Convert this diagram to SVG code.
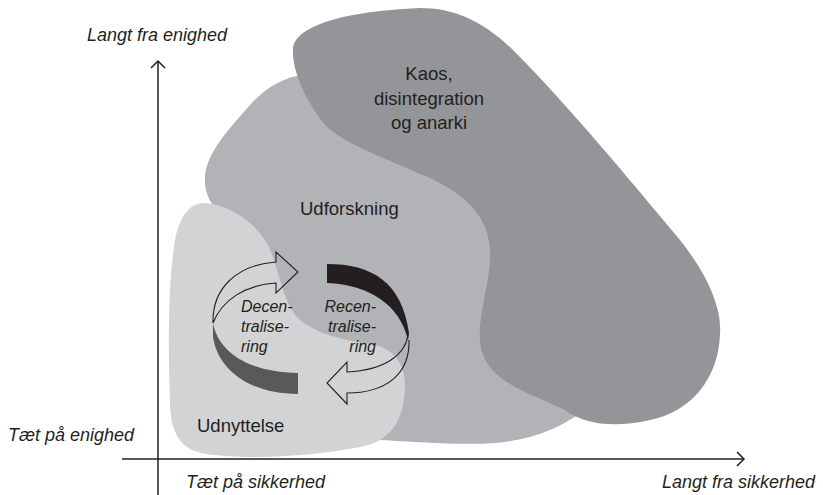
<svg xmlns="http://www.w3.org/2000/svg" width="823" height="495" viewBox="0 0 823 495">
<style>
.lbl{font-family:"Liberation Sans",Arial,sans-serif;font-size:18.5px;fill:#231f20}
.ax{font-family:"Liberation Sans",Arial,sans-serif;font-size:18px;font-style:italic;fill:#231f20}
.cy{font-family:"Liberation Sans",Arial,sans-serif;font-size:16px;font-style:italic;fill:#231f20}
.axis{fill:none;stroke:#231f20;stroke-width:1.5}
.rib{fill:none;stroke:#231f20;stroke-width:1.1;stroke-linejoin:miter}
</style>
<rect width="823" height="495" fill="#ffffff"/>
<g id="udforskning">
<path fill="#b1b3b6" d="M305,75 C285,76 265,88 250,105 C232,126 208,150 205,175 C204,190 208,200 218,212 L200,300 L200,445 L370,440 C400,440 450,446 495,443 C535,440 565,425 585,410 L650,330 L560,150 L400,60 Z"/>
<text class="lbl" x="300" y="215">Udforskning</text>
</g>
<g id="kaos">
<path fill="#939598" d="M420,8 C455,8 485,22 515,52 C565,102 630,180 680,240 C710,278 722,310 720,335 C718,380 690,412 650,420 C615,428 585,425 565,410 C535,395 495,385 483,355 C472,325 492,285 490,250 C488,215 465,195 430,178 C390,160 345,145 325,125 C305,100 292,70 293,50 C293,30 330,12 420,8 Z"/>
<text class="lbl" text-anchor="middle" x="429" y="80">Kaos,</text>
<text class="lbl" text-anchor="middle" x="429" y="104.5">disintegration</text>
<text class="lbl" text-anchor="middle" x="429" y="129">og anarki</text>
</g>
<g id="udnyttelse">
<path fill="#d1d3d4" d="M175,240 C180,215 190,203 205,203 C230,205 255,222 268,245 C278,265 281,295 295,315 C310,332 340,340 375,345 C395,350 405,365 405,385 C405,420 390,442 360,447 C320,455 260,460 215,455 C185,453 170,440 170,400 C168,350 168,280 175,240 Z"/>
<text class="lbl" x="197" y="432">Udnyttelse</text>
</g>
<g id="decentralisering">
<path fill="#58595b" d="M213,323 C218,350 245,372 298,373 L298,394 C250,394 218,370 213,337 Z"/>
<path class="rib" d="M213,323 C212,290 235,265 276,262 L276,252 L298,272 L276,293 L276,283 C245,285 222,300 213,323"/>
<text class="cy" x="241" y="312">Decen-</text>
<text class="cy" x="241" y="332">tralise-</text>
<text class="cy" x="241" y="352">ring</text>
</g>
<g id="recentralisering">
<path fill="#231f20" d="M327,264 C372,264 402,282 409,333 L408,340 C400,305 370,285 327,283 Z"/>
<path class="rib" d="M408,335 C405,355 385,370 347,372 L347,362 L327,383 L347,404 L347,393 C385,393 410,375 409,340"/>
<text class="cy" text-anchor="end" x="376" y="312">Recen-</text>
<text class="cy" text-anchor="end" x="376" y="332">tralise-</text>
<text class="cy" text-anchor="end" x="376" y="352">ring</text>
</g>
<g id="connectors">
<path class="axis" d="M158,495 L158,61"/>
<path class="axis" d="M151,68 L158,61 L165,68"/>
<path class="axis" d="M122,459 L744,459"/>
<path class="axis" d="M737,452 L744,459 L737,466"/>
</g>
<g id="axis-labels">
<text class="ax" x="87" y="41">Langt fra enighed</text>
<text class="ax" x="8" y="441">Tæt på enighed</text>
<text class="ax" x="186" y="488">Tæt på sikkerhed</text>
<text class="ax" text-anchor="end" x="815" y="488">Langt fra sikkerhed</text>
</g>
</svg>
